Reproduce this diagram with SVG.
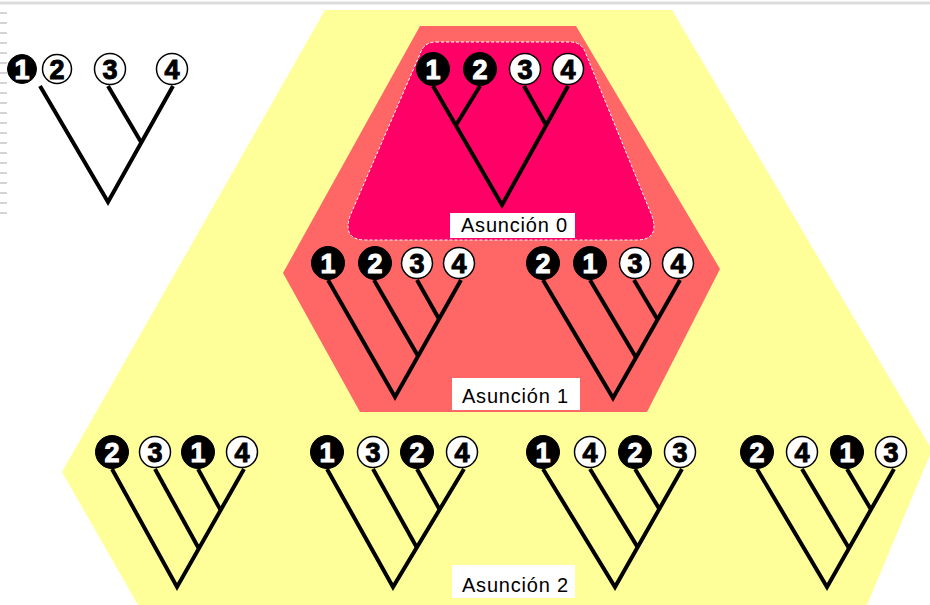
<svg xmlns="http://www.w3.org/2000/svg" width="930" height="605" viewBox="0 0 930 605">
<defs>
<style>
.br{fill:none;stroke:#000;stroke-width:4;stroke-linejoin:miter;stroke-linecap:butt}
.cb{fill:#000;stroke:#000;stroke-width:1}
.cw{fill:#fff;stroke:#000;stroke-width:1.5}
.tb{font-family:"Liberation Sans",Arial,sans-serif;font-weight:bold;font-size:27px;text-anchor:middle;fill:#fff;stroke:#fff;stroke-width:1}
.tw{font-family:"Liberation Sans",Arial,sans-serif;font-weight:bold;font-size:27px;text-anchor:middle;fill:#000;stroke:#000;stroke-width:1}
.lbl{font-family:"Liberation Sans",Arial,sans-serif;font-size:20px;fill:#000}
.box{fill:#fff}
.tick{stroke:#d4d4d4;stroke-width:2}
</style>
</defs>
<rect x="0" y="0" width="930" height="605" fill="#fff"/>
<line x1="0" y1="3" x2="930" y2="3" stroke="#dcdcdc" stroke-width="3"/>
<g id="ticks">
<line class="tick" x1="0" y1="13" x2="7" y2="13"/><line class="tick" x1="0" y1="23" x2="7" y2="23"/><line class="tick" x1="0" y1="33" x2="7" y2="33"/><line class="tick" x1="0" y1="43" x2="7" y2="43"/><line class="tick" x1="0" y1="53" x2="7" y2="53"/><line class="tick" x1="0" y1="63" x2="7" y2="63"/><line class="tick" x1="0" y1="73" x2="7" y2="73"/><line class="tick" x1="0" y1="83" x2="7" y2="83"/><line class="tick" x1="0" y1="93" x2="7" y2="93"/><line class="tick" x1="0" y1="103" x2="7" y2="103"/><line class="tick" x1="0" y1="113" x2="7" y2="113"/><line class="tick" x1="0" y1="123" x2="7" y2="123"/><line class="tick" x1="0" y1="133" x2="7" y2="133"/><line class="tick" x1="0" y1="143" x2="7" y2="143"/><line class="tick" x1="0" y1="153" x2="7" y2="153"/><line class="tick" x1="0" y1="163" x2="7" y2="163"/><line class="tick" x1="0" y1="173" x2="7" y2="173"/><line class="tick" x1="0" y1="183" x2="7" y2="183"/><line class="tick" x1="0" y1="193" x2="7" y2="193"/><line class="tick" x1="0" y1="203" x2="7" y2="203"/><line class="tick" x1="0" y1="213" x2="7" y2="213"/>
</g>
<g id="zone2">
<polygon points="325,10 672,10 932,450 867,605 138,605 62,472" fill="#FFFF99"/>
</g>
<g id="zone1">
<polygon points="420,26 576,26 720,269 647,412 360,412 283,273" fill="#FF6666"/>
</g>
<g id="zone0">
<path d="M 436,42 L 570,42 Q 582,42 586,54 L 652,216 Q 660,240 636,240 L 366,240 Q 342,240 350,216 L 420,54 Q 424,42 436,42 Z" fill="#FF0066" stroke="#fff" stroke-width="1" stroke-dasharray="3,2"/>
</g>
<g id="connectors">
<polyline class="br" points="40,86 108,202 173,86"/>
<line class="br" x1="108" y1="86" x2="141" y2="142"/>
<polyline class="br" points="433,86 502,205 568,86"/>
<line class="br" x1="480" y1="86" x2="456" y2="125"/>
<line class="br" x1="524" y1="86" x2="546" y2="125"/>
<polyline class="br" points="328,280 395,397 461,280"/>
<line class="br" x1="374" y1="280" x2="418" y2="356"/>
<line class="br" x1="417" y1="280" x2="439" y2="319"/>
<polyline class="br" points="543,280 613,398 680,280"/>
<line class="br" x1="590" y1="280" x2="636" y2="357.5"/>
<line class="br" x1="634" y1="280" x2="657.5" y2="319.6"/>
<polyline class="br" points="112,469 177,587 244,469"/>
<line class="br" x1="155" y1="469" x2="198.8" y2="548.5"/>
<line class="br" x1="198" y1="469" x2="220.6" y2="510.1"/>
<polyline class="br" points="327,469 393,587 464,469"/>
<line class="br" x1="373" y1="469" x2="416.8" y2="547.4"/>
<line class="br" x1="417" y1="469" x2="439.6" y2="509.5"/>
<polyline class="br" points="543,469 615,587 682,469"/>
<line class="br" x1="590" y1="469" x2="637.6" y2="547.1"/>
<line class="br" x1="635" y1="469" x2="659.3" y2="508.9"/>
<polyline class="br" points="757,469 827,587 894,469"/>
<line class="br" x1="802" y1="469" x2="849" y2="548.2"/>
<line class="br" x1="847" y1="469" x2="871" y2="509.5"/>
</g>
<g id="tree-top-left">
<circle class="cb" cx="22" cy="69" r="14.5"/><text class="tb" x="22" y="79">1</text>
<circle class="cw" cx="57" cy="69" r="14.5"/><text class="tw" x="57" y="79">2</text>
<circle class="cw" cx="110" cy="69" r="15.5"/><text class="tw" x="110" y="79">3</text>
<circle class="cw" cx="172" cy="69" r="15.5"/><text class="tw" x="172" y="79">4</text>
</g>
<g id="tree-a0">
<circle class="cb" cx="433" cy="69" r="16.5"/><text class="tb" x="433" y="79">1</text>
<circle class="cb" cx="480" cy="69" r="16.5"/><text class="tb" x="480" y="79">2</text>
<circle class="cw" cx="525" cy="69" r="15.5"/><text class="tw" x="525" y="79">3</text>
<circle class="cw" cx="568" cy="69" r="15.5"/><text class="tw" x="568" y="79">4</text>
</g>
<g id="tree-a1-left">
<circle class="cb" cx="328" cy="263" r="16.5"/><text class="tb" x="328" y="273">1</text>
<circle class="cb" cx="375" cy="263" r="16.5"/><text class="tb" x="375" y="273">2</text>
<circle class="cw" cx="417" cy="263" r="15.5"/><text class="tw" x="417" y="273">3</text>
<circle class="cw" cx="459" cy="263" r="15.5"/><text class="tw" x="459" y="273">4</text>
</g>
<g id="tree-a1-right">
<circle class="cb" cx="543" cy="263" r="16.5"/><text class="tb" x="543" y="273">2</text>
<circle class="cb" cx="590" cy="263" r="16.5"/><text class="tb" x="590" y="273">1</text>
<circle class="cw" cx="635" cy="263" r="15.5"/><text class="tw" x="635" y="273">3</text>
<circle class="cw" cx="678" cy="263" r="15.5"/><text class="tw" x="678" y="273">4</text>
</g>
<g id="tree-a2-1">
<circle class="cb" cx="112" cy="452" r="16.5"/><text class="tb" x="112" y="462">2</text>
<circle class="cw" cx="155" cy="452" r="15.5"/><text class="tw" x="155" y="462">3</text>
<circle class="cb" cx="198" cy="452" r="16.5"/><text class="tb" x="198" y="462">1</text>
<circle class="cw" cx="242" cy="452" r="15.5"/><text class="tw" x="242" y="462">4</text>
</g>
<g id="tree-a2-2">
<circle class="cb" cx="327" cy="452" r="16.5"/><text class="tb" x="327" y="462">1</text>
<circle class="cw" cx="373" cy="452" r="15.5"/><text class="tw" x="373" y="462">3</text>
<circle class="cb" cx="417" cy="452" r="16.5"/><text class="tb" x="417" y="462">2</text>
<circle class="cw" cx="462" cy="452" r="15.5"/><text class="tw" x="462" y="462">4</text>
</g>
<g id="tree-a2-3">
<circle class="cb" cx="543" cy="452" r="16.5"/><text class="tb" x="543" y="462">1</text>
<circle class="cw" cx="590" cy="452" r="15.5"/><text class="tw" x="590" y="462">4</text>
<circle class="cb" cx="635" cy="452" r="16.5"/><text class="tb" x="635" y="462">2</text>
<circle class="cw" cx="680" cy="452" r="15.5"/><text class="tw" x="680" y="462">3</text>
</g>
<g id="tree-a2-4">
<circle class="cb" cx="757" cy="452" r="16.5"/><text class="tb" x="757" y="462">2</text>
<circle class="cw" cx="802" cy="452" r="15.5"/><text class="tw" x="802" y="462">4</text>
<circle class="cb" cx="847" cy="452" r="16.5"/><text class="tb" x="847" y="462">1</text>
<circle class="cw" cx="891" cy="452" r="15.5"/><text class="tw" x="891" y="462">3</text>
</g>
<g id="label-0">
<rect class="box" x="450" y="213" width="125" height="25"/>
<text class="lbl" x="461" y="232" textLength="106" lengthAdjust="spacing">Asunción 0</text>
</g>
<g id="label-1">
<rect class="box" x="452" y="378" width="128" height="32"/>
<text class="lbl" x="462" y="403" textLength="106" lengthAdjust="spacing">Asunción 1</text>
</g>
<g id="label-2">
<rect class="box" x="452" y="565" width="123" height="33"/>
<text class="lbl" x="462" y="592" textLength="106" lengthAdjust="spacing">Asunción 2</text>
</g>
</svg>
